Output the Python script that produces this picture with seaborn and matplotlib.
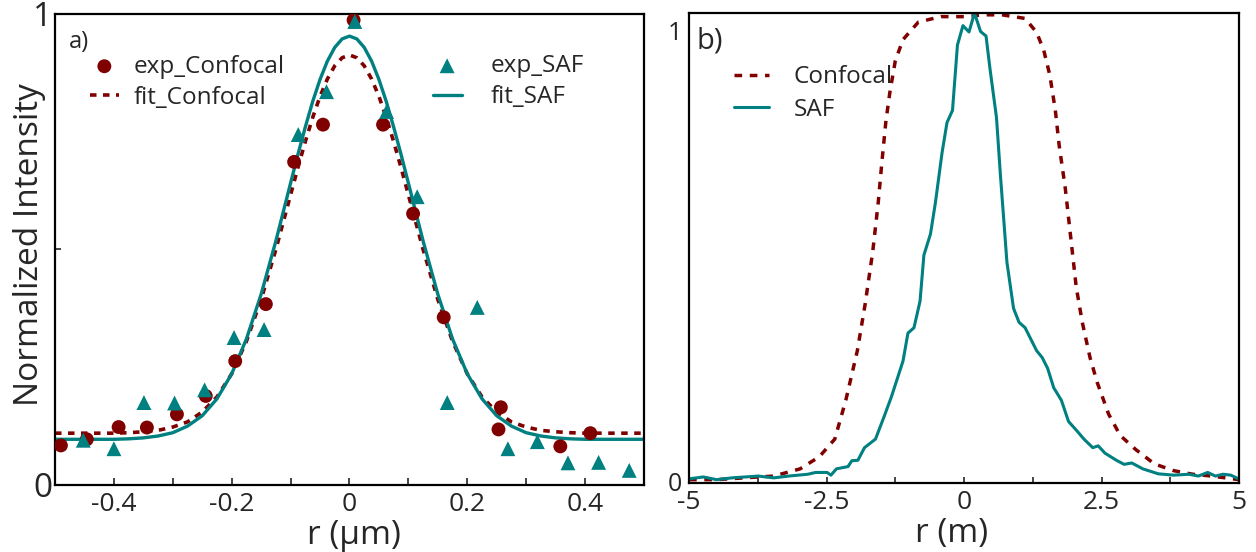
import numpy as np
import pandas as pd
import matplotlib
matplotlib.use("Agg")
import matplotlib.pyplot as plt
import seaborn as sns

# colours
RED = "#800000"
TEAL = "#008080"

# ---- panel a) : measured points (read from picture) ----
conf_x = [-0.490, -0.446, -0.392, -0.344, -0.293, -0.244, -0.194, -0.142, -0.094, -0.045,
          0.007, 0.057, 0.108, 0.160, 0.257, 0.253, 0.358, 0.409]
conf_y = [0.084, 0.097, 0.123, 0.122, 0.150, 0.189, 0.263, 0.384, 0.686, 0.765,
          0.987, 0.765, 0.576, 0.356, 0.165, 0.118, 0.082, 0.110]

saf_x = [-0.452, -0.400, -0.349, -0.297, -0.246, -0.196, -0.145, -0.087, -0.039, 0.009,
         0.063, 0.115, 0.166, 0.217, 0.269, 0.319, 0.371, 0.423, 0.475]
saf_y = [0.095, 0.077, 0.175, 0.174, 0.202, 0.313, 0.330, 0.744, 0.835, 0.984,
         0.793, 0.612, 0.175, 0.377, 0.077, 0.092, 0.047, 0.048, 0.031]

# fitted curves
fit_x = [-0.5, -0.475, -0.45, -0.425, -0.4, -0.375, -0.35, -0.325, -0.3, -0.275, -0.25, -0.225,
         -0.2, -0.175, -0.15, -0.125, -0.1, -0.0875, -0.075, -0.0625, -0.05, -0.0375, -0.025,
         -0.0125, 0.0, 0.0125, 0.025, 0.0375, 0.05, 0.0625, 0.075, 0.0875, 0.1, 0.125, 0.15,
         0.175, 0.2, 0.225, 0.25, 0.275, 0.3, 0.325, 0.35, 0.375, 0.4, 0.425, 0.45, 0.475, 0.5]
fit_saf = [0.097, 0.097, 0.097, 0.097, 0.097, 0.098, 0.100, 0.104, 0.111, 0.125, 0.147, 0.183,
           0.236, 0.310, 0.405, 0.518, 0.641, 0.702, 0.760, 0.814, 0.861, 0.900, 0.929,
           0.947, 0.953, 0.947, 0.929, 0.900, 0.861, 0.814, 0.760, 0.702, 0.641, 0.518, 0.405,
           0.310, 0.236, 0.183, 0.147, 0.125, 0.111, 0.104, 0.100, 0.098, 0.097, 0.097, 0.097, 0.097, 0.097]
fit_conf = [0.110, 0.110, 0.110, 0.110, 0.110, 0.111, 0.113, 0.116, 0.123, 0.134, 0.155, 0.187,
            0.236, 0.305, 0.394, 0.500, 0.616, 0.674, 0.729, 0.780, 0.825, 0.862, 0.890,
            0.907, 0.913, 0.907, 0.890, 0.862, 0.825, 0.780, 0.729, 0.674, 0.616, 0.500, 0.394,
            0.305, 0.236, 0.187, 0.155, 0.134, 0.123, 0.116, 0.113, 0.111, 0.110, 0.110, 0.110, 0.110, 0.110]

# ---- panel b) : profiles ----
prof_conf_x = [-5.0, -4.5, -4.0, -3.46, -2.98, -2.63, -2.35, -2.15, -1.94, -1.80, -1.66, -1.56,
               -1.49, -1.42, -1.35, -1.25, -1.11, -0.83, -0.42, 0.0, 0.35, 0.69, 1.11, 1.32,
               1.45, 1.56, 1.66, 1.73, 1.84, 1.94, 2.04, 2.15, 2.29, 2.42, 2.63, 2.84, 3.12,
               3.46, 3.81, 4.16, 4.50, 5.0]
prof_conf_y = [0.003, 0.003, 0.007, 0.011, 0.027, 0.054, 0.093, 0.179, 0.289, 0.391, 0.509, 0.618,
               0.712, 0.799, 0.861, 0.932, 0.979, 1.018, 1.030, 1.030, 1.034, 1.034, 1.026, 0.995,
               0.955, 0.900, 0.822, 0.744, 0.650, 0.540, 0.430, 0.352, 0.274, 0.219, 0.148, 0.101, 0.070,
               0.038, 0.023, 0.015, 0.011, 0.003]

prof_saf_x = [-4.99, -4.74, -4.50, -4.22, -3.74, -3.46, -3.19, -2.84, -2.70, -2.49, -2.42, -2.32,
              -2.11, -2.04, -1.93, -1.81, -1.61, -1.45, -1.32, -1.11, -1.02, -0.91, -0.80, -0.73,
              -0.61, -0.52, -0.40, -0.31, -0.21, -0.12, -0.02, 0.09, 0.19, 0.30, 0.40, 0.47,
              0.59, 0.66, 0.78, 0.90, 1.00, 1.11, 1.32, 1.42, 1.52, 1.63, 1.77, 1.90, 2.04,
              2.18, 2.34, 2.44, 2.56, 2.77, 2.91, 3.05, 3.25, 3.53, 3.81, 4.09, 4.26, 4.43,
              4.57, 4.71, 4.85, 4.99]
prof_saf_y = [0.005, 0.009, 0.003, 0.007, 0.011, 0.007, 0.011, 0.015, 0.019, 0.019, 0.013, 0.027,
              0.032, 0.045, 0.046, 0.074, 0.093, 0.144, 0.187, 0.266, 0.328, 0.340, 0.399, 0.501,
              0.548, 0.618, 0.728, 0.795, 0.822, 0.967, 1.010, 0.996, 1.038, 0.997, 0.987, 0.916,
              0.806, 0.681, 0.485, 0.383, 0.352, 0.340, 0.289, 0.274, 0.250, 0.207, 0.179, 0.132, 0.113,
              0.093, 0.074, 0.078, 0.062, 0.046, 0.037, 0.040, 0.027, 0.016, 0.013, 0.015, 0.011, 0.019,
              0.011, 0.015, 0.013, 0.005]

# ticks
a_xticks = [-0.5, -0.4, -0.3, -0.2, -0.1, 0.0, 0.1, 0.2, 0.3, 0.4, 0.5]
a_xlabels = ["", "-0.4", "", "-0.2", "", "0", "", "0.2", "", "0.4", ""]
a_yticks = [0, 0.5, 1]
a_ylabels = ["0", "", "1"]
b_xticks = [-5, -3.75, -2.5, -1.25, 0, 1.25, 2.5, 3.75, 5]
b_xlabels = ["-5", "", "-2.5", "", "0", "", "2.5", "", "5"]
b_yticks = [0, 1]
b_ylabels = ["0", "1"]

sns.set_style("ticks")
plt.rcParams["font.family"] = ["Open Sans", "DejaVu Sans"]

fig = plt.figure(figsize=(12.56, 5.52), dpi=100)
ax1 = fig.add_axes([0.0438, 0.1214, 0.4689, 0.8533])
ax2 = fig.add_axes([0.5486, 0.1250, 0.4379, 0.8514])

# panel a
sns.lineplot(x=fit_x, y=fit_conf, ax=ax1, color=RED, lw=2.6, linestyle=(0, (1.8, 1.8)),
             label="fit_Confocal")
sns.lineplot(x=fit_x, y=fit_saf, ax=ax1, color=TEAL, lw=2.4, label="fit_SAF")
sns.scatterplot(x=conf_x, y=conf_y, ax=ax1, color=RED, s=100, marker="o",
                edgecolor="none", label="exp_Confocal", zorder=3)
sns.scatterplot(x=saf_x, y=saf_y, ax=ax1, color=TEAL, s=115, marker="^",
                edgecolor="none", label="exp_SAF", zorder=4)

h, l = ax1.get_legend_handles_labels()
hm = dict(zip(l, h))
ax1.get_legend().remove()
leg1 = ax1.legend([hm["exp_Confocal"], hm["fit_Confocal"]], ["exp_Confocal", "fit_Confocal"],
                  loc="center left", bbox_to_anchor=(0.059, 0.855), frameon=False, fontsize=17.5,
                  handlelength=1.2, handletextpad=0.6, labelspacing=0.3, borderpad=0, borderaxespad=0)
ax1.add_artist(leg1)
ax1.legend([hm["exp_SAF"], hm["fit_SAF"]], ["exp_SAF", "fit_SAF"],
           loc="center left", bbox_to_anchor=(0.641, 0.856), frameon=False, fontsize=17.5,
           handlelength=1.2, handletextpad=1.2, labelspacing=0.3, borderpad=0, borderaxespad=0)

ax1.set_xlim(-0.5, 0.5)
ax1.set_ylim(0, 1)
ax1.set_xticks(a_xticks, a_xlabels)
ax1.set_yticks(a_yticks, a_ylabels)
ax1.tick_params(axis="x", direction="in", length=5, width=1.2, pad=5, labelsize=19)
ax1.tick_params(axis="y", direction="in", length=4, width=1.2, pad=2, labelsize=24)
ax1.set_xlabel("r (μm)", fontsize=24, va="top")
ax1.xaxis.set_label_coords(0.508, -0.073)
ax1.set_ylabel("Normalized Intensity", fontsize=24)
ax1.yaxis.set_label_coords(-0.015, 0.51)
ax1.text(0.024, 0.965, "a)", transform=ax1.transAxes, fontsize=17, va="top", ha="left")

# panel b
sns.lineplot(x=prof_conf_x, y=prof_conf_y, ax=ax2, color=RED, lw=2.5,
             linestyle=(0, (2.2, 2.2)), label="Confocal")
sns.lineplot(x=prof_saf_x, y=prof_saf_y, ax=ax2, color=TEAL, lw=2.2, label="SAF")
ax2.legend(loc="center left", bbox_to_anchor=(0.082, 0.829), frameon=False, fontsize=17.5,
           handlelength=1.45, handletextpad=1.0, labelspacing=0.35, borderpad=0, borderaxespad=0)

ax2.set_xlim(-5, 5)
ax2.set_ylim(-0.0044, 1.038)
ax2.set_xticks(b_xticks, b_xlabels)
ax2.set_yticks(b_yticks, b_ylabels)
ax2.tick_params(axis="x", direction="in", length=4, width=1.2, pad=5, labelsize=19)
ax2.tick_params(axis="y", direction="in", length=0, pad=5, labelsize=18)
ax2.set_xlabel("r (m)", fontsize=24, va="top")
ax2.xaxis.set_label_coords(0.478, -0.073)
ax2.set_ylabel("")
ax2.text(0.014, 0.972, "b)", transform=ax2.transAxes, fontsize=21, va="top", ha="left")

for ax in (ax1, ax2):
    for sp in ax.spines.values():
        sp.set_visible(True)
        sp.set_color("black")
        sp.set_linewidth(1.6)

fig.savefig("out.png", dpi=100)
